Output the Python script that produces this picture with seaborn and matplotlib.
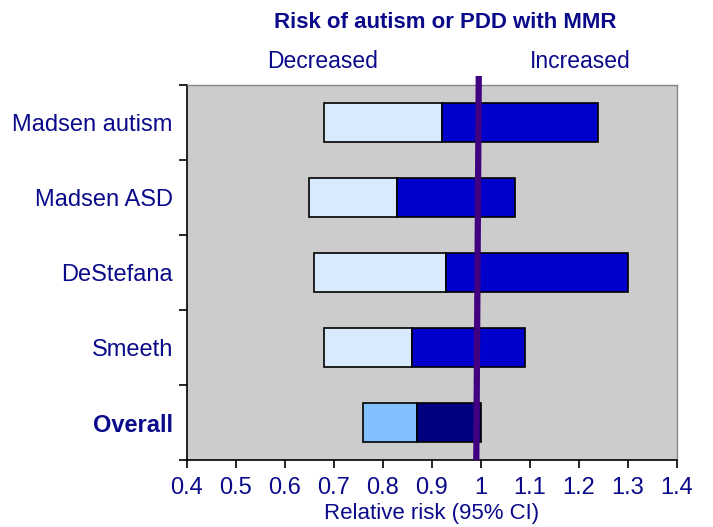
import numpy as np
import pandas as pd
import matplotlib
matplotlib.use("Agg")
import matplotlib.pyplot as plt
import seaborn as sns

# ---- data ----
studies = ["Madsen autism", "Madsen ASD", "DeStefana", "Smeeth", "Overall"]
lower_ci = [0.68, 0.65, 0.66, 0.68, 0.76]
estimate = [0.92, 0.83, 0.93, 0.86, 0.87]
upper_ci = [1.24, 1.07, 1.30, 1.09, 1.00]
x_ticks = [0.4, 0.5, 0.6, 0.7, 0.8, 0.9, 1.0, 1.1, 1.2, 1.3, 1.4]
x_tick_labels = ["0.4", "0.5", "0.6", "0.7", "0.8", "0.9", "1", "1.1", "1.2", "1.3", "1.4"]

light_colors = ["#D8EAFB", "#D8EAFB", "#D8EAFB", "#D8EAFB", "#80C0FF"]
dark_colors = ["#0000CC", "#0000CC", "#0000CC", "#0000CC", "#000080"]

NAVY = "#0a0a8a"

sns.set_theme(style="white")
plt.rcParams["font.family"] = ["Liberation Sans", "DejaVu Sans"]

df = pd.DataFrame({
    "study": studies,
    "lower": lower_ci,
    "est": estimate,
    "upper": upper_ci,
})
df["w_light"] = df["est"] - df["lower"]
df["w_dark"] = df["upper"] - df["est"]

fig = plt.figure(figsize=(7.13, 5.27), dpi=100)
ax = fig.add_axes([0.2619, 0.1271, 0.6872, 0.7116])
ax.set_facecolor("#CCCCCC")

bar_h = 0.53
sns.barplot(data=df, x="w_light", y="study", order=studies, left=df["lower"].values,
            width=bar_h, color=light_colors[0], edgecolor="black", linewidth=1.2,
            ax=ax, orient="h", errorbar=None, zorder=2)
n_light = len(ax.patches)
sns.barplot(data=df, x="w_dark", y="study", order=studies, left=df["est"].values,
            width=bar_h, color=dark_colors[0], edgecolor="black", linewidth=1.2,
            ax=ax, orient="h", errorbar=None, zorder=2)
for i, p in enumerate(ax.patches[:n_light]):
    p.set_facecolor(light_colors[i])
for i, p in enumerate(ax.patches[n_light:]):
    p.set_facecolor(dark_colors[i])

ax.set_xlim(0.4, 1.4)
ax.set_ylim(4.5, -0.5)

# reference line (no effect)
ax.plot([0.996, 0.991], [-0.62, 4.5], color="#400080", lw=4.5, clip_on=False,
        solid_capstyle="butt", zorder=5)

# x axis
ax.set_xticks(x_ticks)
ax.set_xticklabels(x_tick_labels)
ax.tick_params(axis="x", direction="out", length=6, width=1.2, color="black",
               labelsize=17, labelcolor=NAVY, pad=6, bottom=True)
ax.set_xlabel("Relative risk (95% CI)", fontsize=16, color=NAVY, labelpad=3)

# y axis: boundary ticks, labels centered in bands
ax.set_yticks(np.arange(-0.5, len(studies), 1.0))
ax.set_yticklabels([])
ax.tick_params(axis="y", which="major", direction="out", length=6, width=1.2,
               color="black", left=True)
ax.set_yticks(np.arange(len(studies)), minor=True)
ax.set_yticklabels(studies, minor=True)
ax.tick_params(axis="y", which="minor", length=0, labelsize=17, labelcolor=NAVY, pad=10)
for lab in ax.get_yticklabels(minor=True):
    if lab.get_text() == "Overall":
        lab.set_fontweight("bold")
ax.set_ylabel("")

for side in ["top", "right"]:
    ax.spines[side].set_visible(True)
    ax.spines[side].set_color("#888888")
    ax.spines[side].set_linewidth(1.0)
for side in ["left", "bottom"]:
    ax.spines[side].set_visible(True)
    ax.spines[side].set_color("black")
    ax.spines[side].set_linewidth(1.2)

fig.text(445 / 713, 1 - 22 / 527, "Risk of autism or PDD with MMR", ha="center", va="center",
         fontsize=16, fontweight="bold", color=NAVY)
fig.text(323 / 713, 1 - 61 / 527, "Decreased", ha="center", va="center",
         fontsize=16.5, color=NAVY)
fig.text(580 / 713, 1 - 61 / 527, "Increased", ha="center", va="center",
         fontsize=16.5, color=NAVY)

fig.savefig("out.png", dpi=100)
